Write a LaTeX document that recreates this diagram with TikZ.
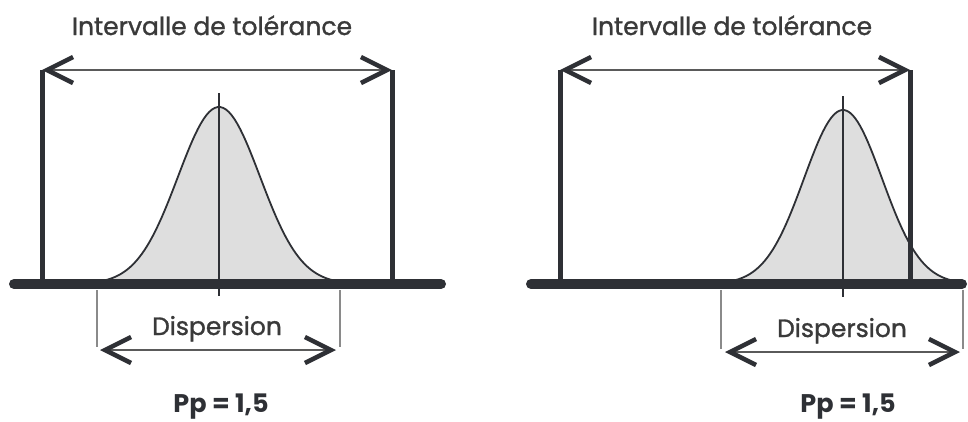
\documentclass[tikz,border=0pt]{standalone}
\usepackage{fontspec}
\setmainfont{Poppins}
\newfontfamily\lblfont[FakeBold=1.2]{Poppins}
\usetikzlibrary{arrows.meta}
\definecolor{ink}{HTML}{2E3035}
\definecolor{bellfill}{HTML}{DEDEDE}
\definecolor{txt}{HTML}{3A3A3A}
\definecolor{shaft}{HTML}{5A5A5A}
\definecolor{guide}{HTML}{8A8A8A}
\tikzset{
  barb/.tip={Straight Barb[length=26pt,width=26pt,line width=4.5pt,color=ink]},
}
\begin{document}
\begin{tikzpicture}[x=1pt,y=-1pt,
  base/.style={line width=10pt, draw=ink, line cap=round},
  limit/.style={line width=5pt, draw=ink},
  dimarrow/.style={line width=1.8pt, draw=shaft, barb-barb},
  curveline/.style={line width=1.8pt, draw=ink},
  bell/.style={fill=bellfill, draw=none},
  axisline/.style={line width=1.8pt, draw=ink},
  guideline/.style={line width=1.3pt, draw=guide},
  lbl/.style={text=txt, font=\lblfont\fontsize{25}{30}\selectfont, inner sep=0pt, anchor=base},
  val/.style={text=ink, font=\fontsize{25.5}{30}\selectfont\bfseries, inner sep=0pt, anchor=base}]
\useasboundingbox (0,0) rectangle (968,421);

% ---------- left panel ----------
\path[bell] plot[domain=-125:125,samples=90] ({219+\x},{284-177*exp(-(\x*\x)/(2*41*41))}) -- cycle;
\coordinate (LtolL) at (42,70);
\coordinate (LtolR) at (392,70);
\coordinate (LbL) at (42,284);
\coordinate (LbR) at (392,284);
\draw[limit] (LtolL) -- (LbL);
\draw[limit] (LtolR) -- (LbR);
\draw[curveline] plot[domain=-125:125,samples=90] ({219+\x},{284-177*exp(-(\x*\x)/(2*41*41))});
\coordinate (LcT) at (219,93);
\coordinate (LcB) at (219,296);
\draw[axisline] (LcT) -- (LcB);
\coordinate (LaxL) at (14,284);
\coordinate (LaxR) at (441,284);
\draw[base] (LaxL) -- (LaxR);
\draw[dimarrow] (LtolL) -- (LtolR);
\coordinate (LgLt) at (97,290);
\coordinate (LgLb) at (97,347);
\coordinate (LgRt) at (340,290);
\coordinate (LgRb) at (340,347);
\draw[guideline] (LgLt) -- (LgLb);
\draw[guideline] (LgRt) -- (LgRb);
\coordinate (LdL) at (100,350);
\coordinate (LdR) at (336,350);
\draw[dimarrow] (LdL) -- (LdR);
\node[lbl] (Ltitle) at (212,35) {Intervalle de tolérance};
\node[lbl] (Ldisp) at (217,335) {Dispersion};
\node[val] (Lpp) at (221,412) {Pp = 1,5};

% ---------- right panel ----------
\path[bell] plot[domain=-118:118,samples=90] ({843+\x},{284-174*exp(-(\x*\x)/(2*39*39))}) -- cycle;
\coordinate (RtolL) at (560,70);
\coordinate (RtolR) at (910,70);
\coordinate (RbL) at (560,284);
\coordinate (RbR) at (910,284);
\draw[limit] (RtolL) -- (RbL);
\draw[limit] (RtolR) -- (RbR);
\draw[curveline] plot[domain=-118:118,samples=90] ({843+\x},{284-174*exp(-(\x*\x)/(2*39*39))});
\coordinate (RcT) at (843,96);
\coordinate (RcB) at (843,297);
\draw[axisline] (RcT) -- (RcB);
\coordinate (RaxL) at (531,284);
\coordinate (RaxR) at (962,284);
\draw[base] (RaxL) -- (RaxR);
\draw[dimarrow] (RtolL) -- (RtolR);
\coordinate (RgLt) at (721,290);
\coordinate (RgLb) at (721,349);
\coordinate (RgRt) at (963,290);
\coordinate (RgRb) at (963,349);
\draw[guideline] (RgLt) -- (RgLb);
\draw[guideline] (RgRt) -- (RgRb);
\coordinate (RdL) at (725,352);
\coordinate (RdR) at (960,352);
\draw[dimarrow] (RdL) -- (RdR);
\node[lbl] (Rtitle) at (732,35) {Intervalle de tolérance};
\node[lbl] (Rdisp) at (842,337) {Dispersion};
\node[val] (Rpp) at (848,412) {Pp = 1,5};
\end{tikzpicture}
\end{document}
